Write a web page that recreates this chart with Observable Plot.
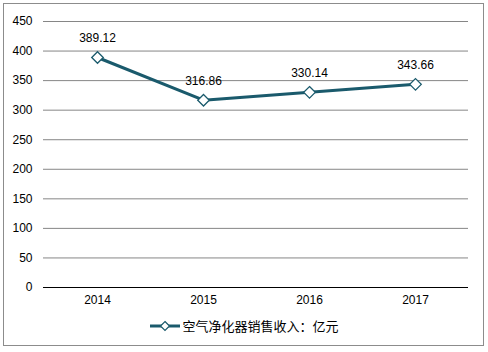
<!DOCTYPE html>
<html>
<head>
<meta charset="utf-8">
<script src="https://cdn.jsdelivr.net/npm/d3@7"></script>
<script src="https://cdn.jsdelivr.net/npm/@observablehq/plot@0.6"></script>
<style>
  body { margin: 0; background: #fff; font-family: "Liberation Sans", Arial, sans-serif; }
  #frame { position: absolute; left: 3px; top: 3px; width: 479px; height: 341px; border: 1px solid #8c8c8c; }
  #chart { position: absolute; left: 0; top: 0; }
  #legend { position: absolute; left: 0; top: 316px; width: 488px; display: flex; justify-content: center; align-items: center; font-family: "Noto Sans CJK SC", sans-serif; font-size: 13px; color: #000; }
</style>
</head>
<body>
<div id="frame"></div>
<div id="chart"></div>
<div id="legend"></div>
<script>
const years = ["2014", "2015", "2016", "2017"];
const revenue = [389.12, 316.86, 330.14, 343.66];
const yTicks = [0, 50, 100, 150, 200, 250, 300, 350, 400, 450];
const seriesName = "空气净化器销售收入：亿元";
const lineColor = "#1a5a6c";

const data = years.map((y, i) => ({year: y, value: revenue[i]}));

const chart = Plot.plot({
  width: 488,
  height: 310,
  marginLeft: 43,
  marginRight: 20,
  marginTop: 21,
  marginBottom: 23,
  style: {fontFamily: "'Liberation Sans', Arial, sans-serif", fontSize: "12px", color: "#000", background: "transparent"},
  x: {type: "band", domain: years, padding: 0, label: null},
  y: {domain: [0, 450], label: null},
  marks: [
    Plot.ruleY(yTicks.filter(d => d > 0), {stroke: "#868686", strokeWidth: 1}),
    Plot.ruleY([0], {stroke: "#000", strokeWidth: 1}),
    Plot.axisY({ticks: yTicks, tickSize: 0, tickPadding: 11, label: null, fontSize: 12}),
    Plot.axisX({tickSize: 0, tickPadding: 8, label: null, fontSize: 12}),
    Plot.line(data, {x: "year", y: "value", stroke: lineColor, strokeWidth: 3}),
    Plot.dot(data, {x: "year", y: "value", symbol: "diamond2", r: 5.2, fill: "#fff", stroke: lineColor, strokeWidth: 1.3}),
    Plot.text(data, {x: "year", y: "value", text: d => d.value.toFixed(2), dy: -19, fontSize: 12, fill: "#000"})
  ]
});
document.getElementById("chart").append(chart);

// legend
const lg = document.getElementById("legend");
const sw = d3.create("svg").attr("width", 32).attr("height", 14);
sw.append("line").attr("x1", 1).attr("x2", 31).attr("y1", 7).attr("y2", 7).attr("stroke", lineColor).attr("stroke-width", 3);
sw.append("path").attr("d", "M16,2.5L20.5,7L16,11.5L11.5,7Z").attr("fill", "#fff").attr("stroke", lineColor).attr("stroke-width", 1.2);
lg.append(sw.node());
const sp = document.createElement("span");
sp.textContent = seriesName;
sp.style.marginLeft = "1px";
lg.append(sp);
</script>
</body>
</html>
